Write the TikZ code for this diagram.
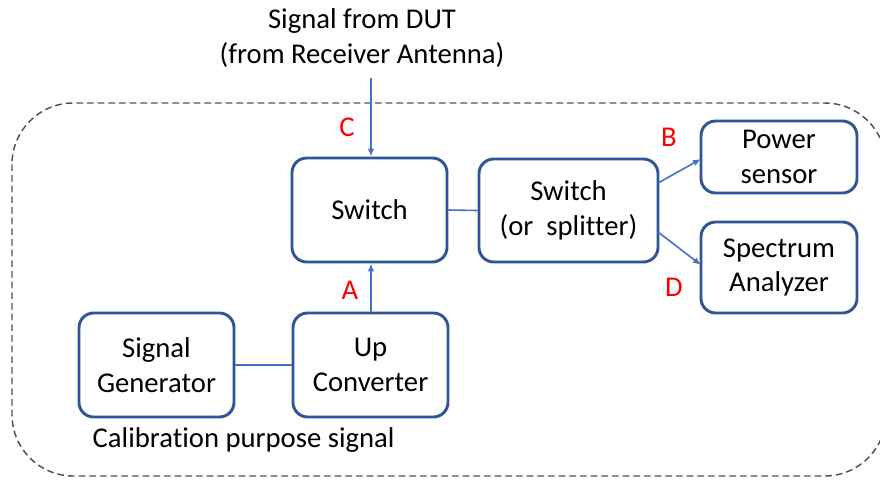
\documentclass[tikz,border=0pt]{standalone}
\usepackage{fontspec}
\setmainfont{Carlito}[Ligatures=NoCommon]
\usetikzlibrary{arrows.meta}
\definecolor{boxblue}{HTML}{2F5597}
\definecolor{lineblue}{HTML}{4472C4}
\definecolor{dashcol}{HTML}{44546A}
\begin{document}
\begin{tikzpicture}[x=0.75pt,y=-0.75pt,
  blk/.style={draw=boxblue,line width=2.2pt,rounded corners=11pt,fill=white,
    align=center,font=\fontsize{21.5}{26}\selectfont,inner sep=0pt},
  conn/.style={draw=lineblue,line width=1.2pt},
  arr/.style={conn,-{Latex[length=6pt,width=5pt]}},
  lbl/.style={text=red,font=\fontsize{21.5}{26}\selectfont},
  txt/.style={font=\fontsize{21.5}{26}\selectfont,align=center}]
\useasboundingbox (0,0) rectangle (880,479);
\clip (0,0) rectangle (880,479);
\draw[dashcol,line width=1.1pt,dash pattern=on 5pt off 3pt,rounded corners=46pt]
  (12,103) rectangle (886,476);
\node[blk,minimum width=116.25pt,minimum height=78pt] (sw1) at (369.5,210) {Switch};
\node[blk,minimum width=134.25pt,minimum height=77.25pt] (sw2) at (568.5,210.5) {Switch\\(or\ \ splitter)};
\node[blk,minimum width=117pt,minimum height=54pt] (ps) at (779,157) {Power\\sensor};
\node[blk,minimum width=117pt,minimum height=68.25pt] (sa) at (779,267.5) {Spectrum\\Analyzer};
\node[blk,minimum width=116.25pt,minimum height=78pt] (sg) at (156.5,365) {Signal\\Generator};
\node[blk,minimum width=116.25pt,minimum height=78pt] (uc) at (370.5,365) {Up\\Converter};
\node[txt] (dut) at (362,38) {Signal from DUT\\(from Receiver Antenna)};
\node[txt,anchor=west] (cal) at (88,440) {Calibration purpose signal};
\coordinate (cin) at (371,78);
\draw[arr] (cin) -- (sw1.north -| cin);
\draw[arr] (uc.north -| cin) -- (sw1.south -| cin);
\draw[conn] (sw1.east) -- (sw2.west);
\draw[conn] (sg.east) -- (uc.west);
\coordinate (bs) at (658,183);
\coordinate (be) at (701,159);
\coordinate (ds) at (658,232);
\coordinate (de) at (701,265);
\draw[arr] (bs) -- (be);
\draw[arr] (ds) -- (de);
\node[lbl] (lc) at (347,127) {C};
\node[lbl] (la) at (350,290) {A};
\node[lbl] (lb) at (669,137) {B};
\node[lbl] (ld) at (674,287) {D};
\end{tikzpicture}
\end{document}
